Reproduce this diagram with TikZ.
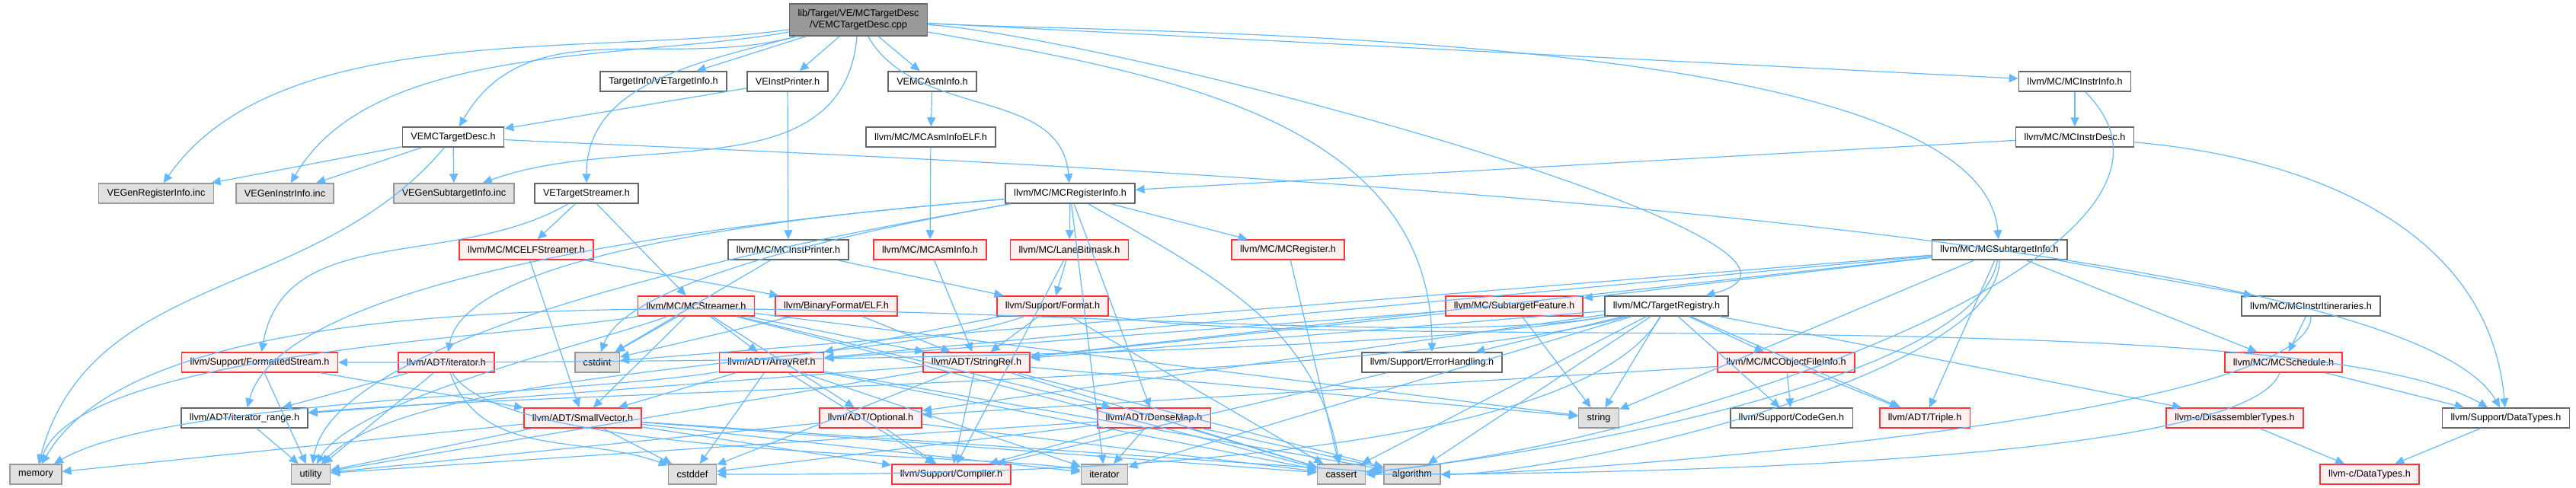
\documentclass[tikz,border=0pt]{standalone}
\usepackage{fontspec}
\setmainfont{Liberation Sans}
\usepackage{tikz}
\usetikzlibrary{arrows.meta}

\definecolor{edgeblue}{HTML}{63B8FF}
\definecolor{rootfill}{HTML}{999999}
\definecolor{boxline}{HTML}{666666}
\definecolor{sysfill}{HTML}{E0E0E0}
\definecolor{sysline}{HTML}{999999}
\definecolor{cutfill}{HTML}{FFF0F0}
\definecolor{cutline}{HTML}{FF3333}

\begin{document}
\begin{tikzpicture}[
  font=\fontsize{3.6}{4.3}\selectfont,
  hdr/.style={draw=boxline,fill=white,line width=0.45pt,minimum height=0.26cm,inner xsep=0.11cm,inner ysep=0pt},
  cut/.style={hdr,draw=cutline,fill=cutfill},
  sys/.style={hdr,draw=sysline,fill=sysfill},
  src/.style={hdr,fill=rootfill,align=center,minimum height=0.42cm},
  arrow/.style={-{Triangle[length=3.4pt,width=3.1pt]},draw=edgeblue,line width=0.34pt},
]
\useasboundingbox (0,0) rectangle (33.82,6.41);

\node[src] (root) at (11.27,6.15) {lib/Target/VE/MCTargetDesc\\/VEMCTargetDesc.cpp};

\node[hdr] (vetinfo)   at (8.71,5.34)  {TargetInfo/VETargetInfo.h};
\node[hdr] (veinstp)   at (10.34,5.34) {VEInstPrinter.h};
\node[hdr] (veasm)     at (12.24,5.34) {VEMCAsmInfo.h};
\node[hdr] (instrinfo) at (27.24,5.34) {llvm/MC/MCInstrInfo.h};

\node[hdr] (vedesc)    at (5.95,4.61)  {VEMCTargetDesc.h};
\node[hdr] (asmelf)    at (12.22,4.61) {llvm/MC/MCAsmInfoELF.h};
\node[hdr] (instrdesc) at (27.24,4.61) {llvm/MC/MCInstrDesc.h};

\node[sys] (genreg)    at (2.05,3.87)  {VEGenRegisterInfo.inc};
\node[sys] (geninstr)  at (3.74,3.87)  {VEGenInstrInfo.inc};
\node[sys] (gensub)    at (5.96,3.87)  {VEGenSubtargetInfo.inc};
\node[hdr] (vetstream) at (7.70,3.87)  {VETargetStreamer.h};
\node[hdr] (reginfo)   at (14.05,3.87) {llvm/MC/MCRegisterInfo.h};

\node[cut] (elfstream)   at (6.91,3.13)  {llvm/MC/MCELFStreamer.h};
\node[hdr] (instprinter) at (10.35,3.13) {llvm/MC/MCInstPrinter.h};
\node[cut] (asminfo)     at (12.21,3.13) {llvm/MC/MCAsmInfo.h};
\node[cut] (lanemask)    at (14.04,3.13) {llvm/MC/LaneBitmask.h};
\node[cut] (mcreg)       at (16.91,3.13) {llvm/MC/MCRegister.h};
\node[hdr] (subinfo)     at (26.25,3.13) {llvm/MC/MCSubtargetInfo.h};

\node[cut] (streamer) at (9.14,2.39)  {llvm/MC/MCStreamer.h};
\node[cut] (elf)      at (10.98,2.39) {llvm/BinaryFormat/ELF.h};
\node[cut] (format)   at (13.82,2.39) {llvm/Support/Format.h};
\node[cut] (subfeat)  at (19.88,2.39) {llvm/MC/SubtargetFeature.h};
\node[hdr] (registry) at (21.88,2.39) {llvm/MC/TargetRegistry.h};
\node[hdr] (itin)     at (30.34,2.39) {llvm/MC/MCInstrItineraries.h};

\node[cut] (fstream)   at (3.41,1.65)  {llvm/Support/FormattedStream.h};
\node[cut] (iter)      at (5.86,1.65)  {llvm/ADT/iterator.h};
\node[sys] (cstdint)   at (7.84,1.65)  {cstdint};
\node[cut] (arrayref)  at (10.13,1.65) {llvm/ADT/ArrayRef.h};
\node[cut] (stringref) at (12.82,1.65) {llvm/ADT/StringRef.h};
\node[hdr] (errhandle) at (18.80,1.65) {llvm/Support/ErrorHandling.h};
\node[cut] (objfile)   at (23.45,1.65) {llvm/MC/MCObjectFileInfo.h};
\node[cut] (sched)     at (29.98,1.65) {llvm/MC/MCSchedule.h};

\node[hdr] (iterrange) at (3.21,0.92)  {llvm/ADT/iterator\_range.h};
\node[cut] (smallvec)  at (7.65,0.92)  {llvm/ADT/SmallVector.h};
\node[cut] (optional)  at (11.43,0.92) {llvm/ADT/Optional.h};
\node[cut] (densemap)  at (15.15,0.92) {llvm/ADT/DenseMap.h};
\node[sys] (string)    at (20.99,0.92) {string};
\node[hdr] (codegen)   at (23.52,0.92) {llvm/Support/CodeGen.h};
\node[cut] (triple)    at (25.27,0.92) {llvm/ADT/Triple.h};
\node[cut] (disasm)    at (29.34,0.92) {llvm-c/DisassemblerTypes.h};
\node[hdr] (datatypes) at (32.90,0.92) {llvm/Support/DataTypes.h};

\node[sys] (memory)     at (0.47,0.18)  {memory};
\node[sys] (utility)    at (4.08,0.18)  {utility};
\node[sys] (cstddef)    at (9.09,0.18)  {cstddef};
\node[cut] (compiler)   at (12.49,0.18) {llvm/Support/Compiler.h};
\node[sys] (iterator)   at (14.50,0.18) {iterator};
\node[sys] (cassert)    at (17.61,0.18) {cassert};
\node[sys] (algorithm)  at (18.54,0.18) {algorithm};
\node[cut] (cdatatypes) at (31.11,0.18) {llvm-c/DataTypes.h};

% the .cpp file
\draw[arrow] (root) to[out=195,in=60] (vedesc);
\draw[arrow] (root) -- (vetinfo);
\draw[arrow] (root) -- (veinstp);
\draw[arrow] (root) -- (veasm);
\draw[arrow] (root) to[out=195,in=90] (vetstream);
\draw[arrow] (root) to[out=188,in=55,looseness=0.8] (genreg);
\draw[arrow] (root) to[out=190,in=60,looseness=0.8] (geninstr);
\draw[arrow] (root) to[out=-95,in=20] (gensub);
\draw[arrow] (root) to[out=-60,in=95] (reginfo);
\draw[arrow] (root) to[out=-10,in=90] (errhandle);
\draw[arrow] (root) -- (instrinfo);
\draw[arrow] (root) to[out=-3,in=95,looseness=0.5] (subinfo);
\draw[arrow] (root) to[out=-4,in=15,looseness=0.6] (registry);

% VE headers
\draw[arrow] (vedesc)    -- (genreg);
\draw[arrow] (vedesc)    -- (geninstr);
\draw[arrow] (vedesc)    -- (gensub);
\draw[arrow] (vedesc)    to[out=-130,in=75] (memory);
\draw[arrow] (vedesc)    to[out=-3,in=120,looseness=0.3] (datatypes);
\draw[arrow] (veinstp)   -- (vedesc);
\draw[arrow] (veinstp)   -- (instprinter);
\draw[arrow] (veasm)     -- (asmelf);
\draw[arrow] (asmelf)    -- (asminfo);
\draw[arrow] (vetstream) -- (elfstream);
\draw[arrow] (vetstream) -- (streamer);
\draw[arrow] (vetstream) to[out=-150,in=80] (fstream);

% instr info
\draw[arrow] (instrinfo) -- (instrdesc);
\draw[arrow] (instrinfo) to[out=-45,in=5,out distance=3cm,in distance=4cm] (cassert);
\draw[arrow] (instrdesc) -- (reginfo);
\draw[arrow] (instrdesc) to[out=-5,in=95] (datatypes);

% register info
\draw[arrow] (reginfo) -- (lanemask);
\draw[arrow] (reginfo) -- (mcreg);
\draw[arrow] (reginfo) to[out=185,in=80,looseness=0.5] (iter);
\draw[arrow] (reginfo) to[out=185,in=75,looseness=0.5] (iterrange);
\draw[arrow] (reginfo) to[out=190,in=80,looseness=0.5] (utility);
\draw[arrow] (reginfo) to[out=190,in=70,looseness=0.5] (cstdint);
\draw[arrow] (reginfo) -- (densemap);
\draw[arrow] (reginfo) to[out=-30,in=100] (cassert);
\draw[arrow] (reginfo) -- (iterator);
\draw[arrow] (lanemask) -- (format);
\draw[arrow] (lanemask) -- (compiler);
\draw[arrow] (mcreg)    -- (cassert);
\draw[arrow] (asminfo)  -- (stringref);

% printer and streamers
\draw[arrow] (instprinter) -- (format);
\draw[arrow] (instprinter) -- (cstdint);
\draw[arrow] (elfstream)   -- (elf);
\draw[arrow] (elfstream)   -- (smallvec);
\draw[arrow] (elf)         -- (stringref);
\draw[arrow] (elf)         -- (cstdint);
\draw[arrow] (streamer) -- (arrayref);
\draw[arrow] (streamer) -- (densemap);
\draw[arrow] (streamer) -- (optional);
\draw[arrow] (streamer) -- (smallvec);
\draw[arrow] (streamer) -- (stringref);
\draw[arrow] (streamer) -- (cassert);
\draw[arrow] (streamer) -- (cstdint);
\draw[arrow] (streamer) to[out=190,in=70,looseness=0.5] (memory);
\draw[arrow] (streamer) -- (string);
\draw[arrow] (streamer) to[out=200,in=60,looseness=0.5] (utility);
\draw[arrow] (format) -- (arrayref);
\draw[arrow] (format) -- (stringref);
\draw[arrow] (format) to[out=-10,in=150,looseness=0.4] (datatypes);
\draw[arrow] (format) -- (cassert);
\draw[arrow] (format) to[out=200,in=45,looseness=0.5] (utility);

% subtarget info
\draw[arrow] (subinfo) -- (arrayref);
\draw[arrow] (subinfo) -- (stringref);
\draw[arrow] (subinfo) -- (subfeat);
\draw[arrow] (subinfo) -- (cstdint);
\draw[arrow] (subinfo) -- (triple);
\draw[arrow] (subinfo) -- (itin);
\draw[arrow] (subinfo) -- (sched);
\draw[arrow] (subinfo) -- (string);
\draw[arrow] (subinfo) to[out=-90,in=0,looseness=0.5] (algorithm);
\draw[arrow] (subinfo) to[out=-100,in=5,looseness=0.5] (cassert);
\draw[arrow] (subfeat) -- (arrayref);
\draw[arrow] (subfeat) -- (stringref);
\draw[arrow] (subfeat) -- (string);
\draw[arrow] (itin)  -- (sched);
\draw[arrow] (itin)  to[out=-90,in=0,looseness=0.3] (algorithm);
\draw[arrow] (sched) -- (datatypes);
\draw[arrow] (sched) to[out=-110,in=0,looseness=0.3] (cassert);

% target registry
\draw[arrow] (registry) -- (disasm);
\draw[arrow] (registry) -- (optional);
\draw[arrow] (registry) -- (stringref);
\draw[arrow] (registry) -- (triple);
\draw[arrow] (registry) to[out=195,in=5,looseness=0.5] (iterrange);
\draw[arrow] (registry) -- (objfile);
\draw[arrow] (registry) -- (codegen);
\draw[arrow] (registry) -- (errhandle);
\draw[arrow] (registry) to[out=190,in=0,looseness=0.5] (fstream);
\draw[arrow] (registry) -- (algorithm);
\draw[arrow] (registry) -- (cassert);
\draw[arrow] (registry) to[out=-120,in=0,looseness=0.5] (cstddef);
\draw[arrow] (registry) -- (iterator);
\draw[arrow] (registry) to[out=190,in=60,looseness=0.5] (memory);
\draw[arrow] (registry) -- (string);
\draw[arrow] (objfile) -- (codegen);
\draw[arrow] (objfile) -- (triple);
\draw[arrow] (objfile) -- (optional);
\draw[arrow] (errhandle) -- (compiler);

% ADT level
\draw[arrow] (fstream) -- (smallvec);
\draw[arrow] (fstream) -- (utility);
\draw[arrow] (iter) -- (iterrange);
\draw[arrow] (iter) -- (utility);
\draw[arrow] (iter) to[out=-70,in=160] (cstddef);
\draw[arrow] (iter) to[out=-60,in=170,looseness=0.4] (iterator);
\draw[arrow] (iterrange) -- (utility);
\draw[arrow] (arrayref) -- (smallvec);
\draw[arrow] (arrayref) -- (compiler);
\draw[arrow] (arrayref) -- (algorithm);
\draw[arrow] (arrayref) -- (cassert);
\draw[arrow] (arrayref) -- (cstddef);
\draw[arrow] (arrayref) -- (iterator);
\draw[arrow] (arrayref) to[out=190,in=30,looseness=0.5] (memory);
\draw[arrow] (stringref) -- (iterrange);
\draw[arrow] (stringref) -- (compiler);
\draw[arrow] (stringref) -- (algorithm);
\draw[arrow] (stringref) -- (cassert);
\draw[arrow] (stringref) -- (cstddef);
\draw[arrow] (stringref) -- (string);
\draw[arrow] (stringref) -- (utility);
\draw[arrow] (smallvec) -- (compiler);
\draw[arrow] (smallvec) -- (algorithm);
\draw[arrow] (smallvec) -- (cassert);
\draw[arrow] (smallvec) -- (cstddef);
\draw[arrow] (smallvec) -- (iterator);
\draw[arrow] (smallvec) -- (memory);
\draw[arrow] (smallvec) -- (utility);
\draw[arrow] (optional) -- (compiler);
\draw[arrow] (optional) -- (cassert);
\draw[arrow] (optional) -- (utility);
\draw[arrow] (densemap) -- (compiler);
\draw[arrow] (densemap) -- (algorithm);
\draw[arrow] (densemap) -- (cassert);
\draw[arrow] (densemap) -- (cstddef);
\draw[arrow] (densemap) -- (iterator);
\draw[arrow] (densemap) -- (utility);
\draw[arrow] (datatypes) -- (cdatatypes);
\draw[arrow] (disasm)    -- (cdatatypes);
\end{tikzpicture}
\end{document}
